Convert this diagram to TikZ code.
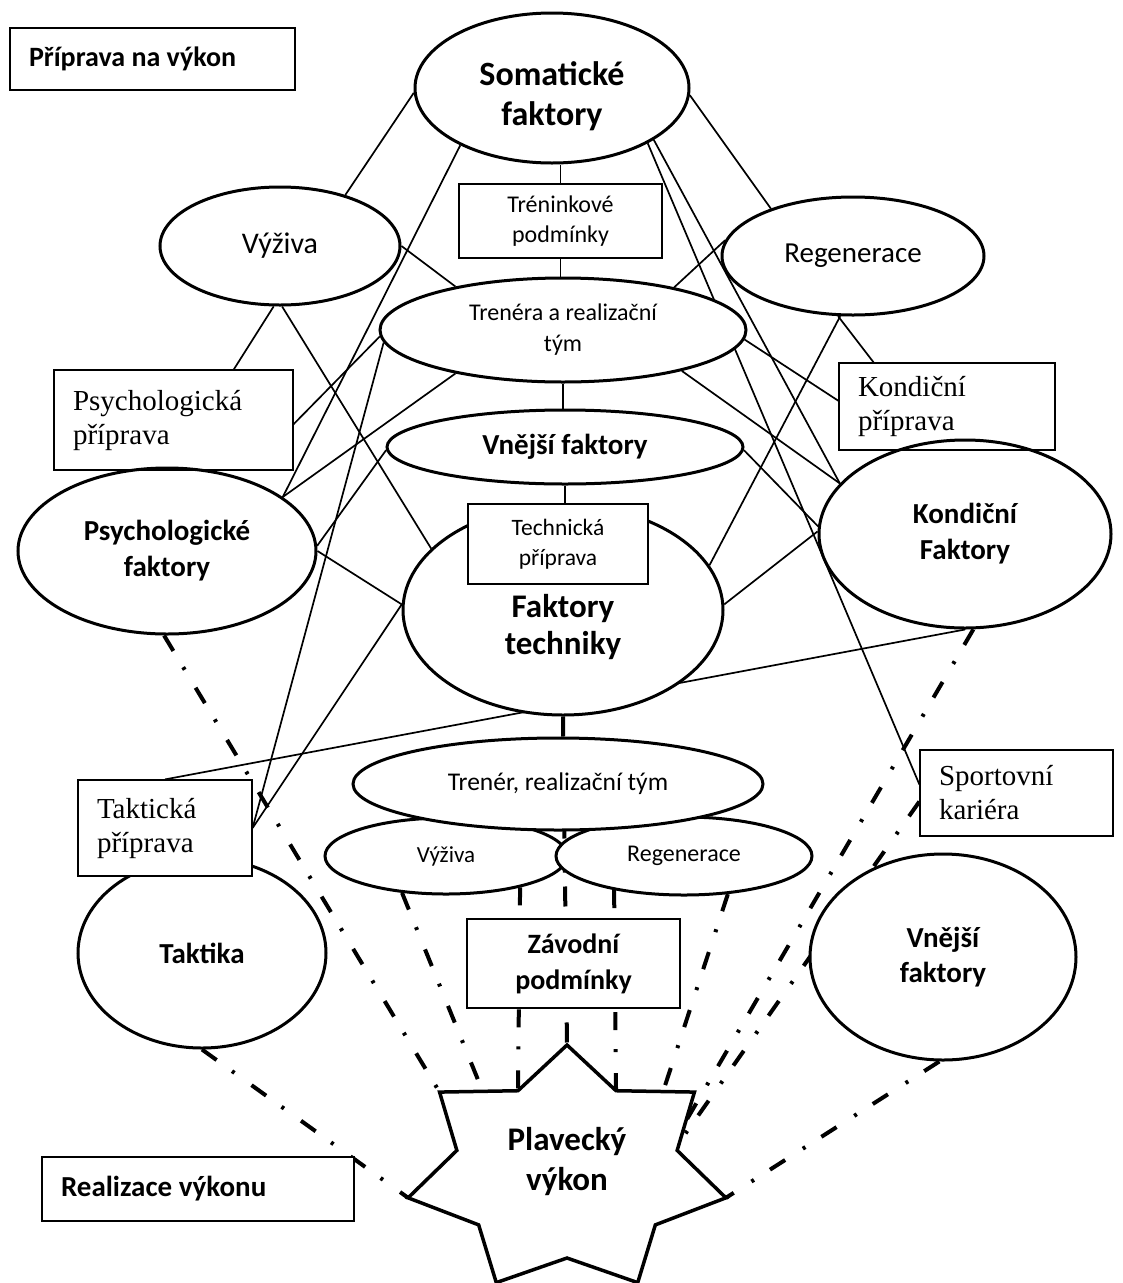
\documentclass[tikz,border=0pt]{standalone}
\usepackage{fontspec}
\setmainfont{Carlito}
\newfontfamily\timesfont{Liberation Serif}
\usetikzlibrary{calc}
\usetikzlibrary{shapes}
\usetikzlibrary{backgrounds}

\begin{document}
\begin{tikzpicture}[x=1pt, y=-1pt]

  \useasboundingbox (0,0) rectangle (1123,1283);

  \path
     coordinate (pripr)   at (152.5,   59)
     coordinate (soma)    at (552,     88)
     coordinate (trenpod) at (560.5,  221)
     coordinate (vyziva)  at (280,    246)
     coordinate (regen)   at (853,    256)
     coordinate (trenera) at (563,    330)
     coordinate (kondpr)  at (947,  406.5)
     coordinate (psychpr) at (173.5,  420)
     coordinate (vnejsi)  at (565,    447)
     coordinate (kondf)   at (965,    534)
     coordinate (techpr)  at (558,    544)
     coordinate (psychf)  at (167,    551)
     coordinate (faktech) at (563,    610)
     coordinate (trener)  at (558,    784)
     coordinate (sportk)  at (1016.5, 793)
     coordinate (taktpr)  at (165,    828)
     coordinate (vyz)     at (446,    856)
     coordinate (reg)     at (684,    856)
     coordinate (taktika) at (202,    953)
     coordinate (vnejsib) at (943,    957)
     coordinate (zavod)   at (573.5, 963.5)
     coordinate (plav)    at (567,   1170)
     coordinate (realiz)  at (198,   1189)
    ;

  % Star corners
  \foreach \i in {0,...,6} {
    \coordinate (po\i) at ($(plav)+({163*cos(-90+\i*360/7)},{125*sin(-90+\i*360/7)})$);
    \coordinate (pi\i) at ($(plav)+({113*cos(-90+(\i+0.5)*360/7)},{88*sin(-90+(\i+0.5)*360/7)})$);
  }

  \tikzset{ovalstyle/.style = {draw, shape=ellipse, line width=3pt, fill=white, inner sep=0pt, align=center}}
  \tikzset{boxstyle/.style = {draw, shape=rectangle, line width=1.2pt, fill=white, inner sep=0pt, align=center}}
  \tikzset{notestyle/.style = {boxstyle, align=flush left, inner xsep=19pt, font=\timesfont\fontsize{29}{34}\selectfont}}

  % Preparation
  \node [ovalstyle, minimum width=274, minimum height=150,
         label={[align=center, yshift=-8pt, font=\fontsize{34}{40}\selectfont\bfseries]center:{Somatické\\faktory}}] (Soma) at (soma) {};
  \node [ovalstyle, minimum width=240, minimum height=118, font=\fontsize{30}{35}\selectfont] (Vyziva) at (vyziva) {Výživa};
  \node [ovalstyle, minimum width=262, minimum height=118, font=\fontsize{29}{35}\selectfont] (Regen) at (regen) {Regenerace};
  \node [boxstyle, minimum width=203, minimum height=74, font=\fontsize{24}{30}\selectfont] (Trenpod) at (trenpod) {Tréninkové\\podmínky};
  \node [ovalstyle, minimum width=366, minimum height=104, font=\fontsize{24}{31}\selectfont] (Trenera) at (trenera) {Trenéra a realizační\\tým};
  \node [ovalstyle, minimum width=356, minimum height=74, font=\fontsize{29}{35}\selectfont\bfseries] (Vnejsi) at (vnejsi) {Vnější faktory};
  \node [ovalstyle, minimum width=298, minimum height=166, font=\fontsize{29}{36}\selectfont\bfseries] (Psychf) at (psychf) {Psychologické\\faktory};
  \node [ovalstyle, minimum width=292, minimum height=188, font=\fontsize{29}{36}\selectfont\bfseries] (Kondf) at (kondf) {Kondiční\\Faktory};
  \node [ovalstyle, minimum width=320, minimum height=210,
         label={[align=center, yshift=-17pt, font=\fontsize{33}{37}\selectfont\bfseries]center:{Faktory\\techniky}}] (Faktech) at (faktech) {};
  \node [boxstyle, minimum width=180, minimum height=80, font=\fontsize{23.5}{30}\selectfont] (Techpr) at (techpr) {Technická\\příprava};
  \node [notestyle, fill=none, text width=201, minimum height=100] (Psychpr) at (psychpr) {Psychologická\\příprava};
  \node [notestyle, fill=none, text width=178, minimum height=87] (Kondpr) at (kondpr) {Kondiční\\příprava};

  % Race
  \node [ovalstyle, minimum width=242, minimum height=76, font=\fontsize{23}{30}\selectfont] (Vyz) at (vyz) {Výživa};
  \node [ovalstyle, minimum width=256, minimum height=78, font=\fontsize{24}{30}\selectfont] (Reg) at (reg) {Regenerace};
  \node [ovalstyle, minimum width=410, minimum height=92, font=\fontsize{25.5}{30}\selectfont] (Trener) at (trener) {Trenér, realizační tým};
  \node [ovalstyle, minimum width=248, minimum height=190, font=\fontsize{29}{35}\selectfont\bfseries] (Taktika) at (taktika) {Taktika};
  \node [notestyle, text width=136, minimum height=96] (Taktpr) at (taktpr) {Taktická\\příprava};
  \node [ovalstyle, minimum width=266, minimum height=206, font=\fontsize{29}{35}\selectfont\bfseries] (Vnejsib) at (vnejsib) {Vnější\\faktory};
  \node [notestyle, text width=155, minimum height=86] (Sportk) at (sportk) {Sportovní\\kariéra};
  \node [boxstyle, minimum width=213, minimum height=89, font=\fontsize{28}{36}\selectfont\bfseries] (Zavod) at (zavod) {Závodní\\podmínky};

  % Performance star
  \path [draw, line width=3.5pt, fill=white, line join=miter]
    (po0) -- (pi0) -- (po1) -- (pi1) -- (po2) -- (pi2) -- (po3) -- (pi3)
    -- (po4) -- (pi4) -- (po5) -- (pi5) -- (po6) -- (pi6) -- cycle;
  \node [align=center, font=\fontsize{33}{40}\selectfont\bfseries] (Plav) at ($(plav)+(0,-8)$) {Plavecký\\výkon};

  % Phase labels
  \tikzset{phasestyle/.style = {boxstyle, align=flush left, inner xsep=19pt}}
  \node [phasestyle, text width=247, minimum height=62, font=\fontsize{28}{34}\selectfont\bfseries] (Pripr) at (pripr) {Příprava na výkon};
  \node [phasestyle, text width=274, minimum height=64, font=\fontsize{29}{35}\selectfont\bfseries] (Realiz) at (realiz) {Realizace výkonu};

  \begin{pgfonlayer}{background}
  \fill [white] (0,0) rectangle (1123,1283);

  % Connecting lines
  \tikzset{linkstyle/.style = {draw, line width=1.7pt}}

  \path [linkstyle] (Trenpod.north) -- (Trenpod.north |- Soma.south);
  \path [linkstyle] (Trenpod.south) -- (Trenpod.south |- Trenera.north);
  \path [linkstyle] (Trenera.south) -- (Trenera.south |- Vnejsi.north);
  \path [linkstyle] (Vnejsi.south) -- (Vnejsi.south |- Techpr.north);

  \path [linkstyle] (Soma.182) -- (Vyziva.38);
  \path [linkstyle] (Soma.212) -- (Psychf.25);
  \path [linkstyle] (Soma.357) -- (Regen.150);
  \path [linkstyle] (Soma.333) -- (Kondf.158);
  \path [linkstyle] (Soma.330) -- (Sportk.175);

  \path [linkstyle] (Vyziva.0) -- (Trenera.158);
  \path [linkstyle] (Vyziva.264) -- (Psychpr.40);
  \path [linkstyle] (Vyziva.272) -- (Faktech.155);

  \path [linkstyle] (Regen.173) -- (Trenera.21);
  \path [linkstyle] (Regen.256) -- (Kondpr.149);
  \path [linkstyle] (Regen.258) -- (Faktech.17);

  \path [linkstyle] (Trenera.182) -- (Psychpr.358);
  \path [linkstyle] (Trenera.184) -- (Taktpr.east);
  \path [linkstyle] (Trenera.202) -- (Psychf.25);
  \path [linkstyle] (Trenera.357) -- (Kondpr.177);
  \path [linkstyle] (Trenera.341) -- (Kondf.158);

  \path [linkstyle] (Vnejsi.181) -- (Psychf.2);
  \path [linkstyle] (Vnejsi.359) -- (Kondf.177);

  \path [linkstyle] (Psychf.0) -- (Faktech.178);
  \path [linkstyle] (Faktech.178) -- (Taktpr.east);
  \path [linkstyle] (Faktech.2) -- (Kondf.179);
  \path [linkstyle] (Taktpr.north) -- (Kondf.south);

  % Flow to performance
  \tikzset{flowstyle/.style = {draw, line width=4pt, dash pattern=on 18pt off 19pt on 3pt off 21pt}}
  \tikzset{spinestyle/.style = {draw, line width=4pt, dash pattern=on 20pt off 14pt}}

  \path [spinestyle] (Faktech.south) -- (po0);

  \path [flowstyle] (Psychf.268) -- (po6);
  \path [flowstyle] (Taktika.south) -- (po5);
  \path [flowstyle] (Vyz.220) -- ($(po6)!0.55!(pi6)$);
  \path [flowstyle] (Vyz.337) -- (pi6);
  \path [flowstyle] (Reg.206) -- (pi0);
  \path [flowstyle] (Reg.319) -- ($(pi0)!0.6!(po1)$);
  \path [flowstyle] (Kondf.275) -- ($(po1)!0.5!(pi1)$);
  \path [flowstyle] (Sportk.185) -- ($(po1)!0.85!(pi1)$);
  \path [flowstyle] (Vnejsib.268) -- (po2);
  \end{pgfonlayer}

\end{tikzpicture}
\end{document}
